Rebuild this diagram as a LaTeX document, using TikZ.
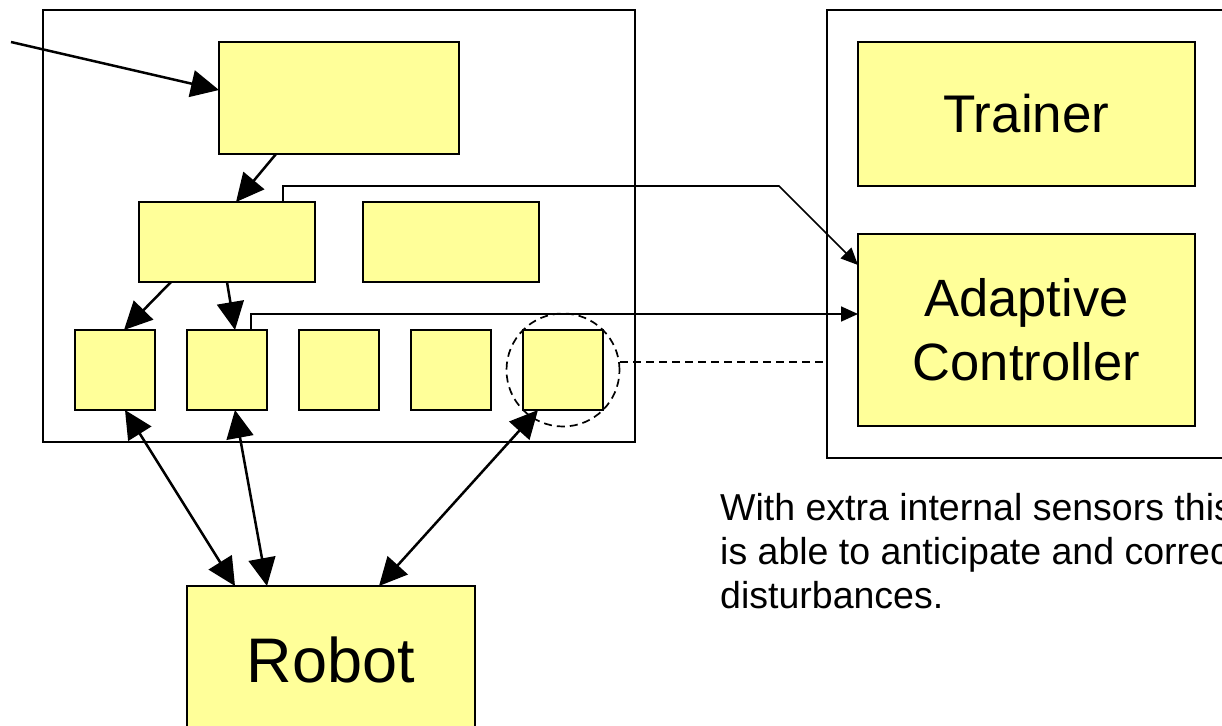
\documentclass[tikz,border=0pt]{standalone}
\usepackage{fontspec}
\setmainfont{Liberation Sans}
\usetikzlibrary{arrows.meta,calc}
\definecolor{boxfill}{HTML}{FFFF99}
\begin{document}
\begin{tikzpicture}[x=1pt,y=-1pt,
  box/.style={draw=black, fill=boxfill, line width=1.8pt, inner sep=0pt, outer sep=0pt},
  frame/.style={draw=black, line width=1.8pt, inner sep=0pt, outer sep=0pt},
  bigarrow/.style={-{Triangle[length=28pt,width=27pt]}, line width=2.5pt},
  twoway/.style={{Triangle[length=28pt,width=27pt]}-{Triangle[length=28pt,width=27pt]}, line width=2.5pt},
  thinarrow/.style={-{Triangle[length=17pt,width=15pt]}, line width=1.7pt},
  dashline/.style={line width=1.7pt, dash pattern=on 8pt off 5pt},
  cell/.style={box, minimum width=80pt, minimum height=80pt},
]
\useasboundingbox (0,0) rectangle (1222,725);
\clip (0,0) rectangle (1222,725);

% containers
\node[frame, minimum width=592pt, minimum height=432pt] (leftframe) at (339,226) {};
\node[frame, minimum width=423pt, minimum height=448pt] (rightframe) at (1038.5,234) {};

% left-hand hierarchy
\node[box, minimum width=240pt, minimum height=112pt] (top) at (339,98) {};
\node[box, minimum width=176pt, minimum height=80pt] (midL) at (227,242) {};
\node[box, minimum width=176pt, minimum height=80pt] (midR) at (451,242) {};
\node[cell] (s1) at (115,370) {};
\node[cell] (s2) at (227,370) {};
\node[cell] (s3) at (339,370) {};
\node[cell] (s4) at (451,370) {};
\node[cell] (s5) at (563,370) {};

% right-hand side
\node[box, minimum width=337pt, minimum height=144pt,
      font=\fontsize{53}{61}\selectfont] (trainer) at (1026.5,114) {Trainer};
\node[box, minimum width=337pt, minimum height=192pt, align=center,
      font=\fontsize{52.5}{63.7}\selectfont] (adaptive) at (1026.5,330) {Adaptive\\Controller};

% robot
\node[box, minimum width=288pt, minimum height=148pt,
      font=\fontsize{63}{72}\selectfont] (robot) at (331,660) {Robot};

% caption
\node[anchor=north west, align=left, inner sep=0pt,
      font=\fontsize{37.5}{44}\selectfont] (note) at (720,493)
  {With extra internal sensors this\\is able to anticipate and correct\\disturbances.};

% dashed ring around the last cell
\node[circle, draw=black, dashline, minimum size=113pt, inner sep=0pt] (ring) at (s5) {};
\coordinate (ringout) at ($(ring.east)+(0,-8)$);
\draw[dashline] (ringout) -- (ringout -| rightframe.west);

% connectors
\coordinate (src) at (11,42);
\draw[bigarrow] (src) -- ($(top.west)+(0,-8)$);
\draw[bigarrow] ($(top.south west)+(57,0)$) -- ($(midL.north west)+(97,0)$);
\draw[bigarrow] ($(midL.south west)+(32,0)$) -- ($(s1.north west)+(49,0)$);
\draw[bigarrow] (midL.south) -- ($(s2.north west)+(48,0)$);

\coordinate (bend) at (779,186);
\draw[thinarrow] ($(midL.north west)+(144,0)$) |- (bend) -- ($(adaptive.north west)+(0,31)$);
\draw[thinarrow] ($(s2.north west)+(64,0)$) |- ($(adaptive.north west)+(0,80)$);

\draw[twoway] ($(s1.south west)+(50,0)$) -- ($(robot.north west)+(48,0)$);
\draw[twoway] ($(s2.south west)+(48,0)$) -- ($(robot.north west)+(80,0)$);
\draw[twoway] ($(s5.south west)+(15,0)$) -- ($(robot.north west)+(192,0)$);
\end{tikzpicture}
\end{document}
